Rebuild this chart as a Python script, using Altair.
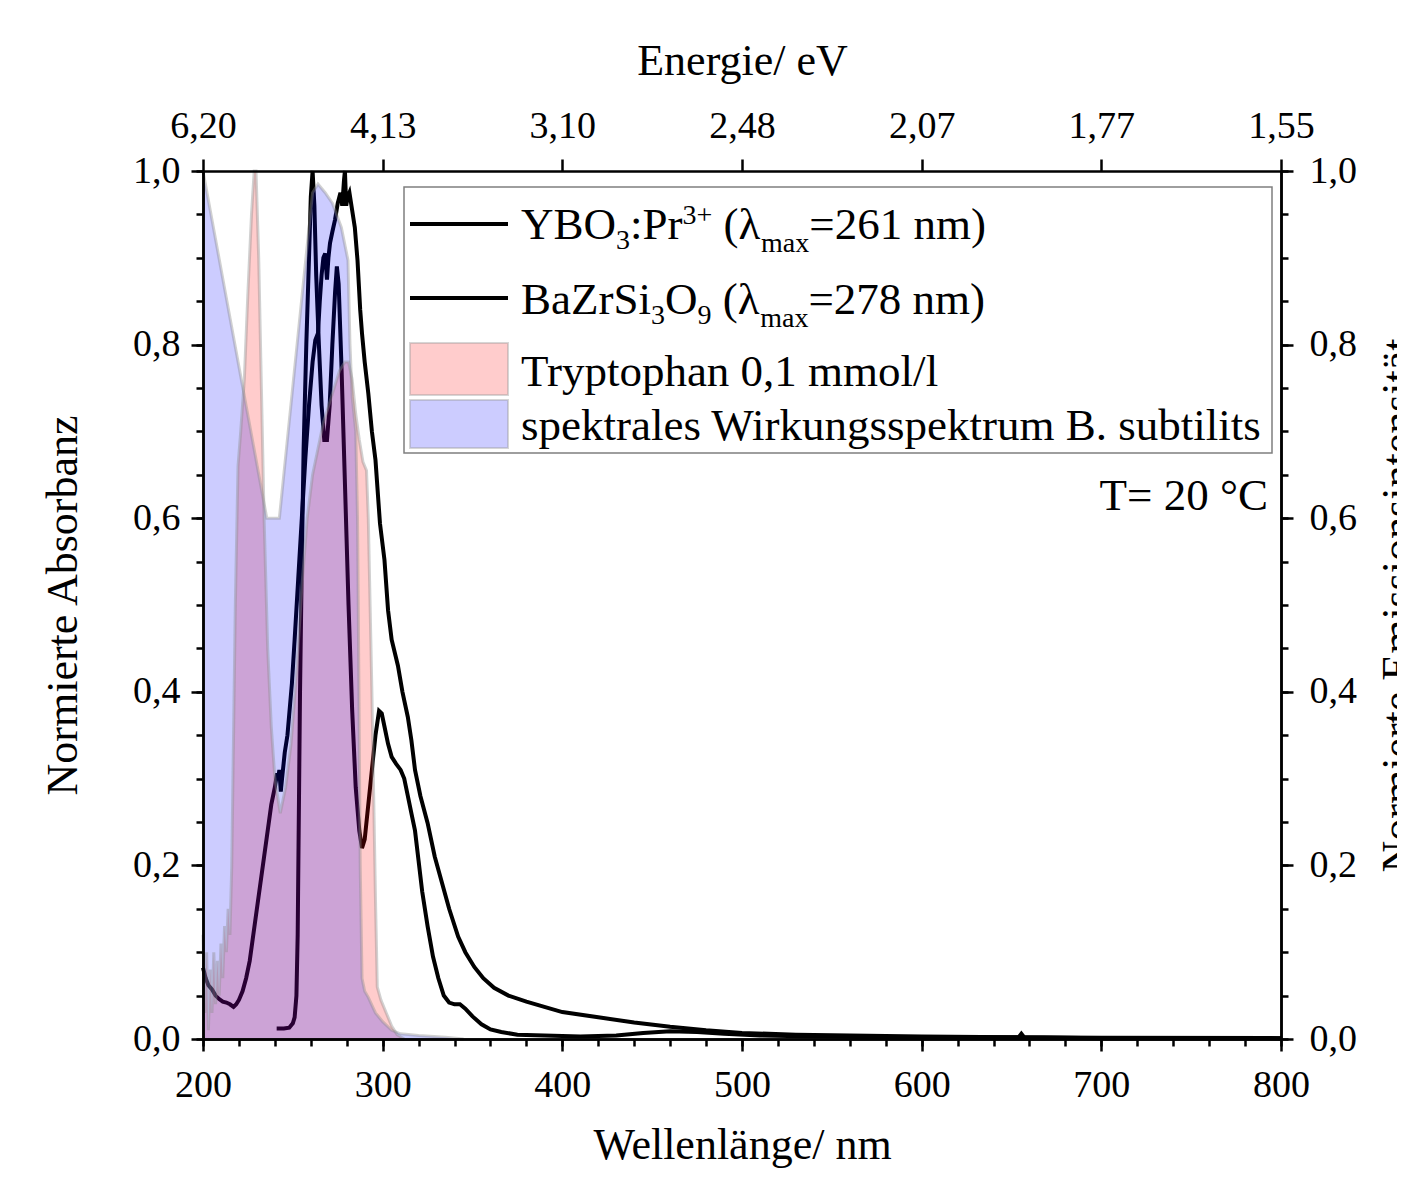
import altair as alt
import pandas as pd

FONT = "Liberation Serif"

# ---------------- data ----------------
ybo_wl = [241, 245, 248, 250, 251, 252, 252.7, 253.3, 254, 255, 256, 257.5, 259, 260, 261, 262, 263, 264.5, 266,
          267.5, 269, 270.5, 272, 273.5, 274.5, 275.5, 277, 279, 281, 283, 285, 287, 288.5, 290, 292, 294, 296,
          298, 299.5, 301, 303, 305, 307.5, 310, 312, 314, 316, 318, 320, 322, 325, 328, 331, 334, 337, 340, 343,
          346, 350, 355, 360, 366, 375, 390, 410, 430, 445, 460, 475, 490, 510, 540, 580, 620, 650, 654, 655.5,
          657, 700, 750, 800]
ybo_val = [0.012, 0.012, 0.013, 0.018, 0.025, 0.05, 0.12, 0.25, 0.4, 0.55, 0.68, 0.8, 0.9, 0.97, 1.0, 0.96, 0.88,
           0.8, 0.73, 0.69, 0.69, 0.73, 0.8, 0.86, 0.89, 0.87, 0.78, 0.64, 0.5, 0.38, 0.29, 0.24, 0.22, 0.23, 0.27,
           0.31, 0.35, 0.378, 0.375, 0.36, 0.34, 0.325, 0.317, 0.31, 0.3, 0.28, 0.26, 0.24, 0.205, 0.17, 0.13,
           0.095, 0.07, 0.05, 0.042, 0.04, 0.04, 0.035, 0.026, 0.017, 0.011, 0.008, 0.005, 0.004, 0.003, 0.004,
           0.007, 0.009, 0.008, 0.006, 0.004, 0.003, 0.002, 0.002, 0.002, 0.002, 0.006, 0.002, 0.001, 0.001, 0.001]

bzs_wl = [200, 201.5, 203, 205, 207, 209, 211, 213, 215, 217, 218.5, 220, 222, 224, 226, 228, 230, 232, 234, 236,
          238, 240, 241.2, 241.8, 242.5, 243.3, 244, 245.5, 247, 249.5, 251, 253, 255, 257, 259, 261, 262.5, 264,
          265, 266, 267, 268, 269, 269.8, 270.7, 272, 273.5, 275, 276.5, 277.5, 278.5, 279, 279.7, 280.5, 281.5,
          283, 284.5, 286, 287.5, 288.5, 290, 292, 294, 296, 298.5, 301, 303, 305, 308.5, 311, 314, 316, 318, 321,
          325, 329, 333, 337, 342, 346, 351, 356, 362, 370, 380, 390, 400, 420, 440, 460, 480, 500, 530, 560, 600,
          650, 700, 800]
bzs_val = [0.082, 0.07, 0.062, 0.057, 0.05, 0.046, 0.043, 0.042, 0.04, 0.037, 0.04, 0.045, 0.055, 0.07, 0.09, 0.12,
           0.15, 0.18, 0.21, 0.24, 0.27, 0.29, 0.306, 0.3, 0.31, 0.285, 0.3, 0.33, 0.35, 0.41, 0.46, 0.53, 0.6, 0.67,
           0.73, 0.78, 0.805, 0.813, 0.85, 0.88, 0.9, 0.905, 0.875, 0.9, 0.917, 0.93, 0.944, 0.963, 0.975, 0.96,
           0.99, 1.0, 0.96, 0.97, 0.975, 0.955, 0.935, 0.897, 0.84, 0.813, 0.78, 0.744, 0.7, 0.667, 0.594, 0.552,
           0.494, 0.46, 0.43, 0.4, 0.371, 0.344, 0.31, 0.28, 0.249, 0.21, 0.18, 0.15, 0.118, 0.1, 0.083, 0.07,
           0.059, 0.05, 0.043, 0.037, 0.031, 0.025, 0.019, 0.014, 0.01, 0.007, 0.005, 0.004, 0.003, 0.002, 0.0015,
           0.001]

trp_wl = [200, 201, 202, 203, 204, 205, 206, 207, 208, 209, 210, 211, 212, 213, 214, 215, 216, 217, 218, 219.5, 221,
          223, 225, 227, 228.5, 229.5, 231, 232.5, 234, 236, 238, 240, 243, 246, 249, 252, 255, 258, 261, 264, 267,
          270, 273, 276, 279, 281, 283, 285, 287, 289, 291, 292, 293, 294, 295, 296, 297, 299, 302, 305, 308, 312]
trp_val = [0.12, 0.03, 0.1, 0.01, 0.08, 0.03, 0.1, 0.04, 0.09, 0.05, 0.11, 0.07, 0.13, 0.1, 0.15, 0.12, 0.2, 0.35,
           0.5, 0.66, 0.7, 0.76, 0.86, 0.95, 1.0, 1.0, 0.9, 0.75, 0.6, 0.45, 0.36, 0.3, 0.26, 0.29, 0.34, 0.42, 0.52,
           0.6, 0.65, 0.68, 0.71, 0.73, 0.75, 0.77, 0.78, 0.78, 0.76, 0.72, 0.69, 0.665, 0.655, 0.6, 0.5, 0.4, 0.28,
           0.16, 0.06, 0.045, 0.03, 0.015, 0.005, 0.0]

bsu_wl = [200, 235.5, 242.5, 261, 264, 268, 272, 277, 280.7, 281.8, 283, 285, 286, 286.8, 287.5, 288.5, 290, 292,
          296, 300, 305, 310, 320, 335, 345]
bsu_val = [1.0, 0.6, 0.6, 0.975, 0.985, 0.975, 0.963, 0.935, 0.897, 0.8, 0.74, 0.7, 0.6, 0.4, 0.2, 0.07, 0.055,
           0.048, 0.03, 0.02, 0.01, 0.006, 0.004, 0.002, 0.0]

x_major = [200, 300, 400, 500, 600, 700, 800]
x_minor = list(range(200, 801, 20))
y_major = [0.0, 0.2, 0.4, 0.6, 0.8, 1.0]
y_minor = [round(i * 0.05, 2) for i in range(21)]
energy_labels = ["6,20", "4,13", "3,10", "2,48", "2,07", "1,77", "1,55"]

series_names = ["YBO3:Pr", "BaZrSi3O9"]

# ---------------- tables ----------------
df_lines = pd.concat([
    pd.DataFrame({"wl": ybo_wl, "val": ybo_val, "series": series_names[0]}),
    pd.DataFrame({"wl": bzs_wl, "val": bzs_val, "series": series_names[1]}),
])
df_trp = pd.DataFrame({"wl": trp_wl, "val": trp_val, "series": "trp"})
df_bsu = pd.DataFrame({"wl": bsu_wl, "val": bsu_val, "series": "bsu"})
df_areas = pd.concat([df_trp, df_bsu])
dummy = pd.DataFrame({"a": [0]})

W_PLOT, H_PLOT = 1078, 868
xs = alt.Scale(domain=[200, 800], nice=False, zero=False)
ys = alt.Scale(domain=[0, 1], nice=False, zero=False)

ax = dict(domainColor="black", domainWidth=2.5, tickColor="black", tickWidth=2.5, labelFont=FONT,
          labelFontSize=38, labelColor="black", titleFont=FONT, titleFontSize=44, titleFontWeight="normal",
          titleColor="black", grid=False, zindex=1, labelFlush=False, labelOverlap=False)

top_expr = ""
for p, lab in zip(x_major, energy_labels):
    top_expr += f"datum.value == {p} ? '{lab}' : "
top_expr += "''"
y_expr = "replace(format(datum.value, '.1f'), '.', ',')"

lines = alt.Chart(df_lines).mark_line(strokeWidth=4, color="black").encode(
    x=alt.X("wl:Q", scale=xs, axis=alt.Axis(orient="bottom", values=x_major, tickSize=12, labelPadding=15,
                                            title="Wellenlänge/ nm", titleX=W_PLOT / 2, titleY=84,
                                            titleBaseline="top", titleAlign="center", **ax)),
    y=alt.Y("val:Q", scale=ys, axis=alt.Axis(orient="left", values=y_major, tickSize=12, labelPadding=11,
                                             labelExpr=y_expr, title="Normierte Absorbanz", titleAngle=270,
                                             titleBaseline="top", titleAlign="center", titleX=-162,
                                             titleY=H_PLOT / 2, **ax)),
    detail="series:N",
)

red = alt.Chart(df_trp).mark_area(color="#ff0000", opacity=0.2).encode(
    x=alt.X("wl:Q", scale=xs, axis=alt.Axis(orient="bottom", values=x_minor, tickSize=7, labels=False,
                                            title=None, **ax)),
    y=alt.Y("val:Q", scale=ys, axis=alt.Axis(orient="left", values=y_minor, tickSize=7, labels=False,
                                             title=None, **ax)),
)

blue = alt.Chart(df_bsu).mark_area(color="#0000ff", opacity=0.2).encode(
    x=alt.X("wl:Q", scale=xs, axis=alt.Axis(orient="top", values=x_major, tickSize=12, labelPadding=14,
                                            labelExpr=top_expr, title="Energie/ eV", titleX=W_PLOT / 2,
                                            titleY=-132, titleBaseline="top", titleAlign="center", **ax)),
    y=alt.Y("val:Q", scale=ys, axis=alt.Axis(orient="right", values=y_major, tickSize=12, labelPadding=16,
                                             labelExpr=y_expr, title="Normierte Emissionsintensität",
                                             titleAngle=270, titleBaseline="top", titleAlign="center",
                                             titleX=95, titleY=H_PLOT / 2, **ax)),
)

strokes = alt.Chart(df_areas).mark_line(color="#8c8c8c", opacity=0.4, strokeWidth=3).encode(
    x=alt.X("wl:Q", scale=xs, axis=None),
    y=alt.Y("val:Q", scale=ys, axis=alt.Axis(orient="right", values=y_minor, tickSize=7, labels=False,
                                             title=None, **ax)),
    detail="series:N",
)

# ---------------- legend (manual, to allow sub/superscripts) ----------------
TW = {" ": 250, "(": 333, ")": 333, "=": 564, ".": 250, ",": 250, "/": 278, ":": 278, "+": 564, "λ": 500,
      "A": 722, "B": 667, "C": 667, "O": 722, "P": 556, "S": 556, "T": 611, "W": 944, "Y": 722, "Z": 611,
      "a": 444, "b": 500, "e": 444, "g": 500, "h": 500, "i": 278, "k": 500, "l": 278, "m": 778, "n": 500,
      "o": 500, "p": 500, "r": 333, "s": 389, "t": 278, "u": 500, "x": 500, "y": 500}


def tw(s, size):
    return sum(TW.get(c, 500) for c in s) / 1000.0 * size


FS, FSS = 45, 28
LX = 318
legend_layers = [
    alt.Chart(dummy).mark_rect(fill="white", stroke="#7f7f7f", strokeWidth=1.5).encode(
        x=alt.value(201), x2=alt.value(1069), y=alt.value(16), y2=alt.value(282)),
    alt.Chart(dummy).mark_rule(color="black", strokeWidth=4).encode(
        x=alt.value(207), x2=alt.value(305), y=alt.value(53)),
    alt.Chart(dummy).mark_rule(color="black", strokeWidth=4).encode(
        x=alt.value(207), x2=alt.value(305), y=alt.value(127)),
    alt.Chart(dummy).mark_rect(fill="#ff0000", fillOpacity=0.2, stroke="#999999", strokeOpacity=0.4,
                               strokeWidth=2).encode(
        x=alt.value(207), x2=alt.value(305), y=alt.value(172), y2=alt.value(224)),
    alt.Chart(dummy).mark_rect(fill="#0000ff", fillOpacity=0.2, stroke="#999999", strokeOpacity=0.4,
                               strokeWidth=2).encode(
        x=alt.value(207), x2=alt.value(305), y=alt.value(229), y2=alt.value(277)),
]

rows = [
    (68, [("YBO", FS, 0, 0), ("3", FSS, 10, 0), (":Pr", FS, 0, 0), ("3+", FSS, -15, 0), ("(λ", FS, 0, 1),
          ("max", FSS, 13, 0), ("=261 nm)", FS, 0, 0)]),
    (143, [("BaZrSi", FS, 0, 0), ("3", FSS, 10, 0), ("O", FS, 0, 0), ("9", FSS, 10, 0), ("(λ", FS, 0, 1),
           ("max", FSS, 13, 0), ("=278 nm)", FS, 0, 0)]),
    (215, [("Tryptophan 0,1 mmol/l", FS, 0, 0)]),
    (269, [("spektrales Wirkungsspektrum B. subtilits", FS, 0, 0)]),
]
for base, pieces in rows:
    cx = LX
    for txt, size, dy, lead in pieces:
        if lead:
            cx += tw(" ", FS)
        legend_layers.append(
            alt.Chart(dummy).mark_text(font=FONT, fontSize=size, align="left", baseline="alphabetic",
                                       color="black").encode(
                x=alt.value(cx), y=alt.value(base + dy), text=alt.value(txt)))
        cx += tw(txt, size)

legend_layers.append(
    alt.Chart(dummy).mark_text(font=FONT, fontSize=45, align="right", baseline="alphabetic",
                               color="black").encode(
        x=alt.value(1065), y=alt.value(339), text=alt.value("T= 20 °C")))

chart = alt.layer(lines, red, blue, strokes, *legend_layers).resolve_scale(
    x="shared", y="shared").resolve_axis(x="independent", y="independent").properties(
    width=W_PLOT, height=H_PLOT,
    autosize=alt.AutoSizeParams(type="none"),
    padding={"left": 195, "top": 163, "right": 116, "bottom": 131},
).configure_view(stroke=None)

chart.save("out.html", embed_options={"renderer": "svg", "actions": False})
